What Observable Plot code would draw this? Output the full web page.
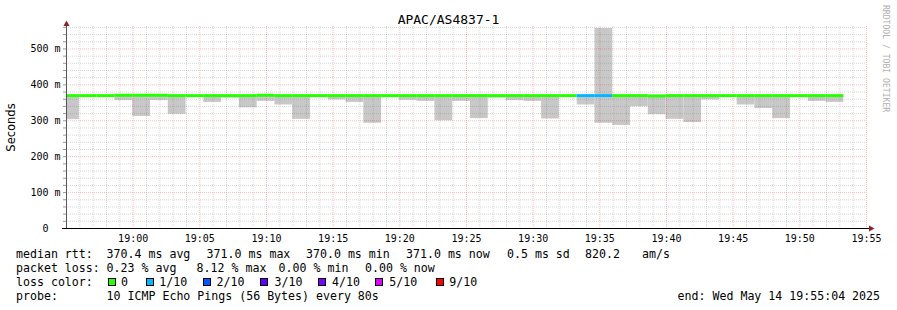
<!DOCTYPE html>
<html><head><meta charset="utf-8">
<script src="https://cdn.jsdelivr.net/npm/d3@7"></script>
<script src="https://cdn.jsdelivr.net/npm/@observablehq/plot@0.6"></script>
<style>
html,body{margin:0;padding:0;background:#fff;}
#wrap{position:relative;width:897px;height:310px;overflow:hidden;background:#fff;}
#wrap svg{position:absolute;left:0;top:0;}
</style></head><body><div id="wrap"></div>
<script>
// ---------- data ----------
const title = "APAC/AS4837-1";
const yLabel = "Seconds";
const watermark = "RRDTOOL / TOBI OETIKER";
const viewStart = "2025-05-14T18:55:00Z";
const viewEnd = "2025-05-14T19:55:00Z";
const firstStepEnd = "2025-05-14T18:55:58Z";
const stepSeconds = 80;
// per 80 s step (ms)
const smokeLow  = [303,369,369,356,312,356,318,369,351,363,336,354,344,304,369,358,351,293,369,357,354,300,354,306,363,356,354,305,369,344,293,287,339,317,304,295,358,369,344,334,306,369,354,351];
const smokeHigh = [371,371,371,371,371,371,371,371,371,371,371,371,371,371,371,371,371,371,371,371,371,371,371,371,371,371,371,371,371,371,557,371,371,371,371,371,371,371,371,371,371,371,371,371];
const medianRtt = [370,370,370,371,371,371,370,370,370,370,370,371,370,370,370,370,370,370,370,370,370,370,370,370,370,370,370,370,370,370,370,370,370,369,370,370,370,370,370,370,370,370,370,370];
const lostPings = [0,0,0,0,0,0,0,0,0,0,0,0,0,0,0,0,0,0,0,0,0,0,0,0,0,0,0,0,0,1,1,0,0,0,0,0,0,0,0,0,0,0,0,0];
const lossLevels = [0,1,2,3,4,5,9];
const lossLabels = ["0","1/10","2/10","3/10","4/10","5/10","9/10"];
const lossColors = ["#26ff00","#00b8ff","#0059ff","#5e00ff","#7e00ff","#dd00ff","#ff0000"];
const yTicks = [0,100,200,300,400,500];
const yTickLabels = ["0","100 m","200 m","300 m","400 m","500 m"];
const rttLabel = "median rtt:";
const rttStats = ["370.4 ms avg","371.0 ms max","370.0 ms min","371.0 ms now","0.5 ms sd","820.2","am/s"];
const lossLabel = "packet loss:";
const lossStats = ["0.23 % avg","8.12 % max","0.00 % min","0.00 % now"];
const colorLabel = "loss color:";
const probeLabel = "probe:";
const probeText = "10 ICMP Echo Pings (56 Bytes) every 80s";
const endText = "end: Wed May 14 19:55:04 2025";

// ---------- build ----------
const t0 = new Date(viewStart), t1 = new Date(viewEnd), fe = new Date(firstStepEnd);
const rows = smokeLow.map((lo, i) => ({
  start: i === 0 ? t0 : new Date(+fe + (i - 1) * stepSeconds * 1000),
  end: new Date(+fe + i * stepSeconds * 1000),
  lo, hi: smokeHigh[i], median: medianRtt[i],
  color: lossColors[lossLevels.indexOf(lostPings[i])]
}));
const minutes = d3.utcMinute.range(t0, new Date(+t1 + 1));
const fiveMin = d3.utcMinute.every(5).range(t0, new Date(+t1 + 1));
const minorX = minutes.filter(d => d.getUTCMinutes() % 5 !== 0);
const majorX = fiveMin.filter(d => +d !== +t0);
const yMinor = d3.range(0, 561, 20).filter(v => v % 100 !== 0);
const yMajor = yTicks.filter(v => v !== 0);
const mono = "DejaVu Sans Mono";

const chart = Plot.plot({
  width: 897, height: 310,
  marginLeft: 66, marginRight: 31, marginTop: 26, marginBottom: 82,
  style: {background: "#fff", fontFamily: mono, fontSize: "10px", color: "#000"},
  x: {type: "utc", domain: [t0, t1], label: null},
  y: {domain: [0, 562.5], label: null},
  color: {type: "identity"},
  marks: [
    Plot.rect(rows, {x1: "start", x2: "end", y1: "lo", y2: "hi", fill: "#c8c8c8"}),
    Plot.ruleY(yMinor, {stroke: "rgba(120,120,120,0.3)", strokeDasharray: "1,1"}),
    Plot.ruleX(minorX, {stroke: "rgba(120,120,120,0.3)", strokeDasharray: "1,1"}),
    Plot.ruleY(yMajor, {stroke: "rgba(235,0,0,0.27)", strokeDasharray: "1,1"}),
    Plot.ruleX(majorX, {stroke: "rgba(235,0,0,0.27)", strokeDasharray: "1,1"}),
    Plot.ruleY(rows, {y: "median", x1: "start", x2: "end", stroke: "color", strokeWidth: 3}),
    Plot.axisY({ticks: d3.range(0, 561, 20), tickSize: 3, tickFormat: () => "", stroke: "#999", label: null}),
    Plot.axisY({ticks: yTicks, tickSize: 0, tickPadding: 21, textAnchor: "middle",
      tickFormat: d => yTickLabels[yTicks.indexOf(d)], fontSize: 10, fontFamily: mono, fill: "#000", label: null}),
    Plot.axisX({ticks: fiveMin.filter(d => +d !== +t0), tickSize: 0, tickPadding: 6,
      tickFormat: d3.utcFormat("%H:%M"), fontSize: 10, fontFamily: mono, fill: "#000", label: null}),
    Plot.ruleX([t0], {stroke: "#555"}),
    Plot.ruleY([0], {stroke: "#000"})
  ]
});
const wrap = d3.select("#wrap");
wrap.node().appendChild(chart);

// ---------- overlay: title, labels, legend, arrows ----------
const ov = wrap.append("svg").attr("width", 897).attr("height", 310)
  .style("pointer-events", "none").style("overflow", "visible");
ov.append("line").attr("x1", 62).attr("x2", 869).attr("y1", 228.5).attr("y2", 228.5).attr("stroke", "#000");
ov.append("polygon").attr("points", "63.5,26 69.5,26 66.5,20.5").attr("fill", "#8b2323");
ov.append("polygon").attr("points", "869,225.5 869,231.5 874.5,228.5").attr("fill", "#8b2323");

ov.append("text").attr("x", 448.5).attr("y", 24).attr("text-anchor", "middle")
  .attr("font-family", mono).attr("font-size", 13).attr("fill", "#000").text(title);
ov.append("text").attr("transform", "translate(15,127.5) rotate(-90)").attr("text-anchor", "middle")
  .attr("font-family", "DejaVu Sans").attr("font-size", 11.5).attr("fill", "#000").text(yLabel);
ov.append("text").attr("transform", "translate(883,5) rotate(90)")
  .attr("font-family", mono).attr("font-size", 8.1).attr("fill", "#b0b0b0").text(watermark);

function t(x, y, s) {
  ov.append("text").attr("x", x).attr("y", y).attr("font-family", mono)
    .attr("font-size", 11.6).attr("fill", "#000").attr("xml:space", "preserve").text(s);
}
const L1 = 258, L2 = 272, L3 = 285.8, L4 = 299.5;
t(16, L1, rttLabel);
[106.6, 206.6, 306, 406, 507, 585, 642].forEach((x, i) => t(x, L1, rttStats[i]));
t(16, L2, lossLabel);
[106.6, 196.6, 278.6, 365].forEach((x, i) => t(x, L2, lossStats[i]));
t(16, L3, colorLabel);
const boxX = [108.5, 146.5, 203.5, 260.5, 318.5, 375.5, 436.5];
const labX = [121, 159.3, 216.6, 274.6, 332, 389.3, 449.3];
lossLabels.forEach((lab, i) => {
  ov.append("rect").attr("x", boxX[i]).attr("y", 278.5).attr("width", 7).attr("height", 7)
    .attr("fill", lossColors[i]).attr("stroke", "#000").attr("stroke-width", 1);
  t(labX[i], L3, lab);
});
t(16, L4, probeLabel);
t(106.6, L4, probeText);
t(677.6, L4, endText);
</script></body></html>
